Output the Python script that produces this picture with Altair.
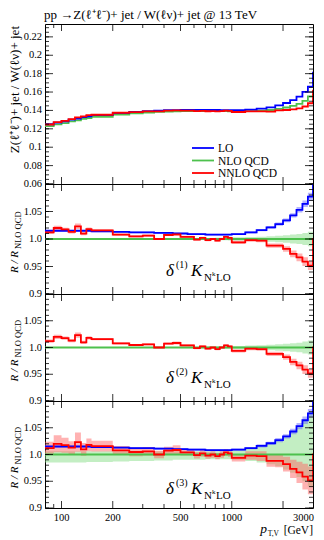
import altair as alt
import pandas as pd

FONT = "Liberation Serif"
W = 268
HEIGHTS = [160, 110, 107, 107]
XDOM = [80, 3000]
TOP_DOM = [0.06, 0.234]
RAT_DOM = [0.9, 1.1]

EDGES = [80, 90, 100, 110, 120, 130, 140, 150, 200, 250, 300, 350, 400, 450, 500,
         550, 600, 650, 700, 750, 800, 850, 900, 950, 1000, 1200, 1400, 1600, 1800,
         2000, 2200, 2400, 2600, 2800, 3000]
OVERFLOW_EDGE = 3400

TOP_LO = [0.1250, 0.1267, 0.1281, 0.1299, 0.1312, 0.1327, 0.1337, 0.1349, 0.1372, 0.1384,
          0.1392, 0.1399, 0.1403, 0.1404, 0.1406, 0.1406, 0.1407, 0.1407, 0.1406, 0.1405,
          0.1405, 0.1403, 0.1403, 0.1402, 0.1403, 0.1409, 0.1419, 0.1434, 0.1456, 0.1481,
          0.1513, 0.1550, 0.1601, 0.1660]
TOP_NLO = [0.1230, 0.1248, 0.1262, 0.1280, 0.1293, 0.1308, 0.1318, 0.1330, 0.1355, 0.1368,
           0.1376, 0.1384, 0.1388, 0.1390, 0.1392, 0.1393, 0.1394, 0.1394, 0.1394, 0.1393,
           0.1393, 0.1392, 0.1392, 0.1391, 0.1390, 0.1392, 0.1397, 0.1405, 0.1418, 0.1432,
           0.1450, 0.1472, 0.1505, 0.1553]
TOP_NNLO = [0.1247, 0.1273, 0.1287, 0.1306, 0.1324, 0.1335, 0.1350, 0.1353, 0.1375, 0.1382,
            0.1389, 0.1389, 0.1397, 0.1400, 0.1398, 0.1398, 0.1392, 0.1396, 0.1391, 0.1393,
            0.1389, 0.1393, 0.1398, 0.1395, 0.1383, 0.1389, 0.1389, 0.1388, 0.1400, 0.1405,
            0.1411, 0.1423, 0.1443, 0.1478]
TOP_OVER = {"LO": 0.181, "NLO": 0.157, "NNLO": 0.1615}

R_LO = [1.015, 1.015, 1.015, 1.015, 1.015, 1.015, 1.015, 1.014, 1.013, 1.012,
        1.012, 1.011, 1.011, 1.010, 1.010, 1.009, 1.009, 1.009, 1.008, 1.008,
        1.008, 1.008, 1.008, 1.008, 1.009, 1.012, 1.016, 1.021, 1.027, 1.034,
        1.043, 1.053, 1.064, 1.077]
R_NNLO = [1.012, 1.020, 1.0175, 1.013, 1.023, 1.0096, 1.018, 1.0157, 1.0078, 1.0047,
          1.006, 1.000, 1.0073, 1.0084, 1.004, 1.004, 0.9987, 1.002, 0.998, 1.000,
          0.997, 1.000, 1.004, 1.002, 0.9938, 0.998, 0.997, 0.988, 0.988, 0.982,
          0.973, 0.9665, 0.9587, 0.9515]
R_OVER = {"LO": 1.16, "NLO": 1.0, "NNLO": 1.0}

D1_LO_ERR = [0.0015] * 24 + [0.0015, 0.002, 0.002, 0.0025, 0.003, 0.0035, 0.004, 0.005, 0.006, 0.007]
D1_NLO_ERR = [0.001] * 14 + [0.0012, 0.0013, 0.0015, 0.0016, 0.0018, 0.002, 0.0021, 0.0022,
                              0.0024, 0.0025, 0.003, 0.0036, 0.0043, 0.005, 0.006, 0.007,
                              0.008, 0.009, 0.011, 0.013]
D1_NNLO_ERR = [0.003, 0.004, 0.003, 0.003, 0.005, 0.003, 0.003, 0.002, 0.002, 0.002,
               0.002, 0.002, 0.002, 0.003, 0.002, 0.002, 0.002, 0.002, 0.002, 0.002,
               0.002, 0.002, 0.002, 0.002, 0.003, 0.003, 0.003, 0.004, 0.004, 0.005,
               0.006, 0.007, 0.008, 0.008]
D2_NLO_ERR = D1_NLO_ERR
D2_NNLO_ERR = [0.003, 0.004, 0.003, 0.003, 0.005, 0.003, 0.003, 0.002, 0.002, 0.002,
               0.002, 0.002, 0.002, 0.003, 0.002, 0.002, 0.002, 0.002, 0.002, 0.002,
               0.002, 0.002, 0.002, 0.002, 0.003, 0.003, 0.003, 0.004, 0.004, 0.005,
               0.006, 0.007, 0.008, 0.008]
D3_LO_ERR = [0.002] * 24 + [0.002, 0.002, 0.003, 0.003, 0.004, 0.004, 0.005, 0.006, 0.007, 0.008]
D3_NLO_LO = [0.985, 0.985, 0.985, 0.985, 0.985, 0.985, 0.986, 0.986, 0.987, 0.988,
             0.988, 0.989, 0.989, 0.990, 0.990, 0.990, 0.990, 0.990, 0.991, 0.991,
             0.991, 0.991, 0.991, 0.991, 0.990, 0.988, 0.985, 0.982, 0.978, 0.972,
             0.966, 0.958, 0.950, 0.940]
D3_NLO_HI = [1.006, 1.006, 1.006, 1.006, 1.006, 1.006, 1.006, 1.006, 1.006, 1.006,
             1.006, 1.006, 1.006, 1.006, 1.006, 1.006, 1.006, 1.006, 1.006, 1.006,
             1.006, 1.006, 1.006, 1.006, 1.008, 1.011, 1.015, 1.020, 1.026, 1.033,
             1.042, 1.052, 1.064, 1.080]
D3_NNLO_ERR = [0.012, 0.016, 0.014, 0.012, 0.018, 0.012, 0.012, 0.010, 0.008, 0.008,
               0.008, 0.007, 0.007, 0.009, 0.006, 0.006, 0.006, 0.006, 0.006, 0.006,
               0.006, 0.006, 0.006, 0.006, 0.007, 0.008, 0.009, 0.011, 0.012, 0.014,
               0.017, 0.020, 0.024, 0.026]

XT_MAJOR = [100, 200, 500, 1000, 2000]
XT_MINOR = [90, 300, 400, 600, 700, 800, 900]
X_LABELS = [100, 200, 500, 1000]
X_LABEL_TXT = ["100", "200", "500", "1000"]
X_LAST_LABEL = [3000]
X_LAST_LABEL_TXT = ["3000"]
TOP_YMAJ = [0.06, 0.08, 0.10, 0.12, 0.14, 0.16, 0.18, 0.20, 0.22]
TOP_YMIN = [round(0.06 + 0.005 * i, 3) for i in range(35)]
TOP_LABEL_TXT = ["0.06", "0.08", "0.1", "0.12", "0.14", "0.16", "0.18", "0.2", "0.22"]
RAT_YMAJ = [0.9, 0.95, 1.0, 1.05, 1.1]
RAT_YMIN = [round(0.9 + 0.01 * i, 2) for i in range(21)]
RAT_LABELS = [0.9, 0.95, 1.0, 1.05]
RAT_LABEL_TXT = ["0.9", "0.95", "1.0", "1.05"]

SERIES = ["LO", "NLO QCD", "NNLO QCD"]
BLUE, GREEN, RED = "#0000ff", "#4dc14d", "#ff0000"
BLUE_BAND, GREEN_BAND, RED_BAND = "#6a6aff", "#88dd88", "#ff6666"


def xs(field="x"):
    return alt.X(f"{field}:Q", scale=alt.Scale(type="log", domain=XDOM), axis=None)


def ysc(dom):
    return alt.Scale(domain=dom, nice=False, zero=False)


def steps(vals, lo=None, hi=None, over=None):
    xs_ = list(EDGES)
    ys_ = list(vals) + [vals[-1]]
    if over is not None:
        ys_[-1] = over
        xs_.append(OVERFLOW_EDGE)
        ys_.append(over)
    d = {"x": xs_, "y": ys_}
    if lo is not None:
        d["lo"] = list(lo) + [lo[-1]]
        d["hi"] = list(hi) + [hi[-1]]
    return pd.DataFrame(d)


def line(vals, color, dom, over=None):
    return alt.Chart(steps(vals, over=over)).mark_line(
        interpolate="step-after", color=color, strokeWidth=1.8, clip=True
    ).encode(x=xs(), y=alt.Y("y:Q", scale=ysc(dom), axis=None))


def band(lo, hi, color, dom, op=0.5):
    return alt.Chart(steps(lo, lo, hi)).mark_area(
        interpolate="step-after", color=color, opacity=op, clip=True
    ).encode(x=xs(), y=alt.Y("lo:Q", scale=ysc(dom), axis=None), y2="hi:Q")


def sym(center, err):
    return [c - e for c, e in zip(center, err)], [c + e for c, e in zip(center, err)]


def text(s, x, y, size=10, angle=0, align="left", baseline="alphabetic", style="normal", color="black"):
    return alt.Chart(pd.DataFrame({"t": [s]})).mark_text(
        font=FONT, fontSize=size, angle=angle, align=align, baseline=baseline,
        fontStyle=style, color=color
    ).encode(text="t:N", x=alt.value(x), y=alt.value(y))


def ticks(dom, h, ymaj, ymin, ylabels, ylabel_txt, xlabels=False):
    lay = []
    for vals, ln in ((XT_MAJOR, 7), (XT_MINOR, 4)):
        df = pd.DataFrame({"t": vals})
        lay.append(alt.Chart(df).mark_rule(color="black", strokeWidth=0.8).encode(
            x=xs("t"), y=alt.value(0), y2=alt.value(ln)))
        lay.append(alt.Chart(df).mark_rule(color="black", strokeWidth=0.8).encode(
            x=xs("t"), y=alt.value(h), y2=alt.value(h - ln)))
    for vals, ln in ((ymaj, 8), (ymin, 4)):
        df = pd.DataFrame({"t": vals})
        lay.append(alt.Chart(df).mark_rule(color="black", strokeWidth=0.8).encode(
            y=alt.Y("t:Q", scale=ysc(dom), axis=None), x=alt.value(0), x2=alt.value(ln)))
        lay.append(alt.Chart(df).mark_rule(color="black", strokeWidth=0.8).encode(
            y=alt.Y("t:Q", scale=ysc(dom), axis=None), x=alt.value(W), x2=alt.value(W - ln)))
    lay.append(alt.Chart(pd.DataFrame({"t": ylabels, "s": ylabel_txt})).mark_text(
        font=FONT, fontSize=10.5, align="right", baseline="middle").encode(
        y=alt.Y("t:Q", scale=ysc(dom), axis=None), x=alt.value(-3), text="s:N"))
    if xlabels:
        lay.append(alt.Chart(pd.DataFrame({"t": X_LABELS, "s": X_LABEL_TXT})).mark_text(
            font=FONT, fontSize=10.5, align="center", baseline="middle").encode(
            x=xs("t"), y=alt.value(h + 10), text="s:N"))
        lay.append(alt.Chart(pd.DataFrame({"t": X_LAST_LABEL, "s": X_LAST_LABEL_TXT})).mark_text(
            font=FONT, fontSize=10.5, align="right", baseline="middle", dx=1).encode(
            x=xs("t"), y=alt.value(h + 10), text="s:N"))
    return lay


def ratio_title(h):
    c = h / 2
    return [text("R / R", -30, c + 34, size=11, angle=270, align="left",
                 baseline="middle", style="italic"),
            text("NLO QCD", -27.5, c + 10, size=8.5, angle=270, align="left",
                 baseline="middle")]


def delta_label(k, h, yb):
    x0 = 121
    return [text("δ", x0, yb, size=17, style="italic"),
            text(f"({k})", x0 + 10, yb - 8, size=10),
            text("K", x0 + 25, yb, size=17, style="italic"),
            text("N", x0 + 38, yb + 5, size=11),
            text("k", x0 + 46, yb, size=7),
            text("LO", x0 + 50, yb + 5, size=11)]


# ---------- panel 1 ----------
h1 = HEIGHTS[0]
p1_layers = [
    line(TOP_NLO, GREEN, TOP_DOM, TOP_OVER["NLO"]),
    line(TOP_LO, BLUE, TOP_DOM, TOP_OVER["LO"]),
    line(TOP_NNLO, RED, TOP_DOM, TOP_OVER["NNLO"]),
] + ticks(TOP_DOM, h1, TOP_YMAJ, TOP_YMIN, TOP_YMAJ, TOP_LABEL_TXT) + [
    text("Z(ℓ⁺ℓ⁻)+ jet / W(ℓν)+ jet", -30, 2, size=13, angle=270, align="right",
         baseline="middle"),
    text("pp →Z(ℓ⁺ℓ⁻)+ jet / W(ℓν)+ jet @ 13 TeV", -1, -5, size=13),
]
for i, (name, col) in enumerate(zip(SERIES, [BLUE, GREEN, RED])):
    yy = 124 + 12.5 * i
    p1_layers.append(alt.Chart(pd.DataFrame({"t": [name]})).mark_rule(
        color=col, strokeWidth=1.8).encode(x=alt.value(147), x2=alt.value(169), y=alt.value(yy)))
    p1_layers.append(text(name, 173, yy + 4, size=11.5))
p1 = alt.layer(*p1_layers).properties(width=W, height=h1)

# ---------- panel 2 (delta 1) ----------
h2 = HEIGHTS[1]
lo_lo, lo_hi = sym(R_LO, D1_LO_ERR)
nn_lo, nn_hi = sym(R_NNLO, D1_NNLO_ERR)
nl_lo, nl_hi = sym([1.0] * 34, D1_NLO_ERR)
p2 = alt.layer(
    band(nl_lo, nl_hi, GREEN_BAND, RAT_DOM),
    band(lo_lo, lo_hi, BLUE_BAND, RAT_DOM),
    band(nn_lo, nn_hi, RED_BAND, RAT_DOM),
    line([1.0] * 34, GREEN, RAT_DOM),
    line(R_LO, BLUE, RAT_DOM, R_OVER["LO"]),
    line(R_NNLO, RED, RAT_DOM, R_OVER["NNLO"]),
    *ticks(RAT_DOM, h2, RAT_YMAJ, RAT_YMIN, RAT_LABELS, RAT_LABEL_TXT),
    *ratio_title(h2),
    *delta_label(1, h2, 92),
).properties(width=W, height=h2)

# ---------- panel 3 (delta 2) ----------
h3 = HEIGHTS[2]
nn_lo, nn_hi = sym(R_NNLO, D2_NNLO_ERR)
nl_lo, nl_hi = sym([1.0] * 34, D2_NLO_ERR)
p3 = alt.layer(
    band(nl_lo, nl_hi, GREEN_BAND, RAT_DOM),
    band(nn_lo, nn_hi, RED_BAND, RAT_DOM),
    line([1.0] * 34, GREEN, RAT_DOM),
    line(R_NNLO, RED, RAT_DOM, R_OVER["NNLO"]),
    *ticks(RAT_DOM, h3, RAT_YMAJ, RAT_YMIN, RAT_LABELS, RAT_LABEL_TXT),
    *ratio_title(h3),
    *delta_label(2, h3, 89),
).properties(width=W, height=h3)

# ---------- panel 4 (delta 3) ----------
h4 = HEIGHTS[3]
lo_lo, lo_hi = sym(R_LO, D3_LO_ERR)
nn_lo, nn_hi = sym(R_NNLO, D3_NNLO_ERR)
p4 = alt.layer(
    band(D3_NLO_LO, D3_NLO_HI, GREEN_BAND, RAT_DOM),
    band(lo_lo, lo_hi, BLUE_BAND, RAT_DOM),
    band(nn_lo, nn_hi, RED_BAND, RAT_DOM),
    line([1.0] * 34, GREEN, RAT_DOM),
    line(R_LO, BLUE, RAT_DOM, R_OVER["LO"]),
    line(R_NNLO, RED, RAT_DOM, R_OVER["NNLO"]),
    *ticks(RAT_DOM, h4, RAT_YMAJ, RAT_YMIN, RAT_LABELS, RAT_LABEL_TXT, xlabels=True),
    *ratio_title(h4),
    *delta_label(3, h4, 93),
    text("[GeV]", W, h4 + 26, size=11.5, align="right"),
    text("T,V", W - 34, h4 + 28, size=7.5, align="right"),
    text("p", W - 46, h4 + 25, size=13.5, align="right", style="italic"),
).properties(width=W, height=h4)

chart = alt.vconcat(p1, p2, p3, p4, spacing=0, bounds="flush").properties(
    padding={"left": 0, "top": 0, "right": 0, "bottom": 0}
).configure_view(stroke="black", strokeWidth=1)

chart.save("out.html", embed_options={"renderer": "svg", "actions": False})
